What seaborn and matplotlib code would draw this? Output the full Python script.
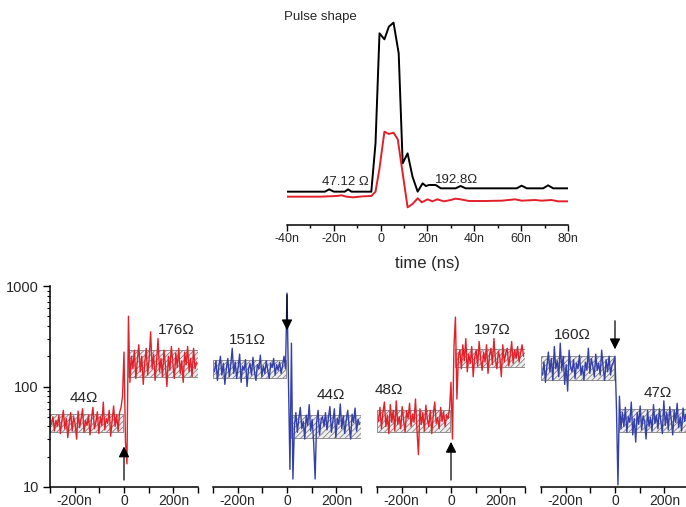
import numpy as np
import pandas as pd
import matplotlib
matplotlib.use('Agg')
import matplotlib.pyplot as plt
import seaborn as sns
from matplotlib.ticker import FixedLocator, FuncFormatter, NullFormatter, LogLocator

sns.set_theme(style='ticks')
plt.rcParams['font.family'] = ['Liberation Sans', 'DejaVu Sans']
plt.rcParams['hatch.linewidth'] = 0.6

# ---------------- Pulse shape (top inset) ----------------
pulse_t_black = [-40, -23.8, -22, -20, -15.3, -13.9, -12.5, -4, -2.2, -0.5, 1.6, 3.5, 5.5, 7.7,
                 9.4, 11.5, 13.6, 15.8, 17.9, 19.3, 20.7, 23.5, 25.7, 32, 34.1, 36.3, 58.1,
                 60.2, 62.4, 69.4, 71.5, 73.7, 80]
pulse_v_black = [5, 5, 6.4, 5, 5, 6.4, 5, 5, 34, 100, 96.4, 104, 106.4, 88,
                 22, 28, 14, 5, 10, 8.4, 9, 9, 7, 7, 8.4, 7, 7,
                 8.6, 7, 7, 8.8, 7, 7]
pulse_t_red = [-40, -25.9, -18.8, -16.7, -14.6, -11.8, -7.5, -4, -2.2, -0.5, 1.6, 3.5, 5.5, 7.3,
               9.4, 11.5, 13.6, 15.8, 17.6, 20, 22.1, 24.2, 27, 29.9, 32, 34.1, 37.7, 44.8,
               51.8, 57.4, 60.2, 65.9, 68.7, 72.9, 75.8, 80]
pulse_v_red = [2, 2, 2.4, 2.8, 2, 1.6, 2.2, 2.4, 5, 19, 41, 39.6, 40.4, 36.4,
               16, -4.4, -2.4, 1, -1.4, 0.4, -0.8, 0.4, -0.8, 0, 0.8, 0.4, -0.6, -0.6,
               -0.4, 0.4, -0.4, 0, -0.4, 0, -0.8, -0.8]
pulse_ticks = [-40, -20, 0, 20, 40, 60, 80]

# ---------------- Resistance switching traces (bottom) ----------------
trace_t = list(range(-294, 295, 6))

trace1 = [42, 50, 36, 46, 40, 52, 34, 45, 58, 38, 48, 31, 44, 55, 36, 50, 42, 30, 57, 39,
          48, 60, 35, 46, 41, 52, 33, 47, 62, 38, 44, 56, 34, 50, 41, 70, 37, 48, 43, 58,
          32, 46, 64, 40, 52, 36, 55, 62, 80,
          220, 28, 17, 500, 110, 200,
          150, 230, 120, 180, 260, 140, 200, 105, 170, 240, 130, 190, 350, 150, 210, 115,
          175, 300, 140, 190, 125, 230, 160, 100, 200, 145, 250, 170, 120, 215, 155, 240,
          135, 180, 110, 220, 165, 250, 140, 190, 125, 240, 150, 175]
trace2 = [140, 180, 115, 160, 200, 130, 170, 105, 150, 190, 125, 165, 240, 135, 175, 120,
          155, 210, 110, 160, 145, 185, 100, 150, 170, 130, 195, 140, 115, 165, 150, 205,
          125, 160, 135, 180, 145, 120, 170, 155, 190, 130, 165, 145, 175, 135, 160, 200, 150,
          850, 110, 15, 270, 12, 40,
          55, 35, 48, 62, 38, 45, 30, 52, 41, 66, 36, 47, 28, 12, 44, 58, 33, 46, 50, 40,
          55, 37, 49, 63, 35, 45, 60, 31, 48, 42, 67, 38, 51, 34, 46, 58, 40, 30, 53, 44,
          61, 36, 47, 42]
trace3 = [45, 62, 38, 55, 70, 40, 52, 34, 66, 44, 58, 36, 72, 42, 50, 38, 63, 46, 35, 57,
          48, 68, 40, 53, 44, 75, 37, 21, 60, 42, 55, 36, 65, 47, 40, 58, 34, 52, 70, 43,
          49, 38, 62, 45, 56, 40, 52, 48, 60,
          110, 30, 250, 490, 75, 200,
          230, 150, 260, 180, 300, 140, 210, 170, 250, 125, 195, 230, 160, 280, 190, 145,
          220, 175, 260, 135, 205, 240, 165, 300, 185, 150, 225, 195, 125, 260, 175, 215,
          240, 160, 200, 280, 170, 230, 190, 250, 175, 215, 260, 200]
trace4 = [130, 175, 110, 160, 220, 140, 190, 115, 250, 150, 180, 125, 270, 145, 200, 105,
          165, 90, 230, 155, 140, 185, 120, 170, 150, 205, 130, 160, 115, 175, 145, 240,
          135, 190, 160, 125, 210, 145, 170, 130, 230, 155, 115, 185, 140, 200, 130, 165, 175,
          200, 60, 10.5, 80, 38, 55,
          40, 62, 35, 50, 44, 70, 33, 48, 28, 55, 42, 64, 37, 51, 45, 30, 58, 40, 49, 36,
          66, 43, 52, 38, 60, 45, 34, 72, 41, 55, 37, 63, 47, 33, 58, 44, 68, 39, 50, 36,
          61, 45, 53, 42]

traces = [trace1, trace2, trace3, trace4]
trace_colors = ['#e3202a', '#3440a8', '#e3202a', '#3440a8']
# plateau bands (low, high) before and after the pulse
band_pre = [(35, 53), (122, 185), (35, 58), (116, 201)]
band_post = [(124, 231), (31, 52), (157, 236), (35, 60)]
label_pre = ['44Ω', '151Ω', '48Ω', '160Ω']
label_post = ['176Ω', '44Ω', '197Ω', '47Ω']
label_pre_pos = [(-162, 77), (-162, 290), (-252, 92), (-174, 325)]
label_post_pos = [(211, 363), (178, 82), (166, 363), (174, 86)]
arrow_from = [11.0, 870, 11.0, 480]
arrow_to = [27, 340, 30, 220]
bottom_ticks = [-200, 0, 200]
bottom_minor = [-300, -100, 100, 300]

W, H = 686, 507
fig = plt.figure(figsize=(W / 100, H / 100), dpi=100)

def nfmt(v, pos=None):
    v = int(round(v))
    return '0' if v == 0 else f'{v}n'

# ---- top ----
ax0 = fig.add_axes([287 / W, 1 - 225 / H, 281 / W, 215 / H])
sns.lineplot(x=pulse_t_black, y=pulse_v_black, ax=ax0, color='black', linewidth=1.4,
             estimator=None, sort=False, legend=False)
sns.lineplot(x=pulse_t_red, y=pulse_v_red, ax=ax0, color='#e3202a', linewidth=1.4,
             estimator=None, sort=False, legend=False)
ax0.set_xlim(-40, 80)
ax0.set_ylim(-15, 114)
sns.despine(ax=ax0, left=True, top=True, right=True)
ax0.set_yticks([])
ax0.set_ylabel('')
ax0.xaxis.set_major_locator(FixedLocator(pulse_ticks))
ax0.xaxis.set_minor_locator(FixedLocator([-30, -10, 10, 30, 50, 70]))
ax0.xaxis.set_major_formatter(FuncFormatter(nfmt))
ax0.tick_params(axis='x', which='major', length=4, width=1, labelsize=9, pad=2, color='black')
ax0.tick_params(axis='x', which='minor', length=2.5, width=1, color='black')
ax0.spines['bottom'].set_linewidth(1.1)
ax0.spines['bottom'].set_color('black')
ax0.set_xlabel('time (ns)', fontsize=12, labelpad=8)
ax0.text(-15.2, 11, '47.12 Ω', fontsize=9.5, ha='center', va='center')
ax0.text(32.6, 12, '192.8Ω', fontsize=9.5, ha='center', va='center')
ax0.text(-41.3, 109.8, 'Pulse shape', fontsize=9.5, ha='left', va='center', clip_on=False)

# ---- bottom ----
lefts = [50, 213, 377, 541]
for i in range(4):
    ax = fig.add_axes([lefts[i] / W, 1 - 487 / H, 148 / W, 201 / H])
    lo, hi = band_pre[i]
    ax.fill_between([-300, -4], lo, hi, facecolor='#eeeeee', edgecolor='#808080',
                    hatch='//////', linewidth=0.6, zorder=1)
    lo, hi = band_post[i]
    ax.fill_between([16, 300], lo, hi, facecolor='#eeeeee', edgecolor='#808080',
                    hatch='//////', linewidth=0.6, zorder=1)
    sns.lineplot(x=trace_t, y=traces[i], ax=ax, color=trace_colors[i], linewidth=1.0,
                 estimator=None, sort=False, legend=False, zorder=2)
    ax.set_yscale('log')
    ax.set_ylim(10, 1000)
    ax.set_xlim(-300, 300)
    ax.set_ylabel('')
    ax.xaxis.set_major_locator(FixedLocator(bottom_ticks))
    ax.xaxis.set_minor_locator(FixedLocator(bottom_minor))
    ax.xaxis.set_major_formatter(FuncFormatter(nfmt))
    ax.tick_params(axis='x', which='both', length=4, width=1, labelsize=10, pad=1, color='black')
    ax.spines['bottom'].set_color('black')
    ax.spines['bottom'].set_linewidth(1.1)
    if i == 0:
        sns.despine(ax=ax, top=True, right=True)
        ax.spines['left'].set_color('black')
        ax.spines['left'].set_linewidth(1.1)
        ax.yaxis.set_major_locator(FixedLocator([10, 100, 1000]))
        ax.yaxis.set_major_formatter(FuncFormatter(lambda v, p: f'{int(round(v))}'))
        ax.yaxis.set_minor_locator(LogLocator(base=10, subs=np.arange(2, 10)))
        ax.yaxis.set_minor_formatter(NullFormatter())
        ax.tick_params(axis='y', which='major', length=5, width=1, labelsize=10.5, pad=3, color='black')
        ax.tick_params(axis='y', which='minor', length=2.5, width=0.8, color='black')
    else:
        sns.despine(ax=ax, left=True, top=True, right=True)
        ax.tick_params(axis='y', which='both', left=False, labelleft=False)
    ax.text(*label_pre_pos[i], label_pre[i], fontsize=11, ha='center', va='center')
    ax.text(*label_post_pos[i], label_post[i], fontsize=11, ha='center', va='center')
    ax.annotate('', xy=(0, arrow_to[i]), xytext=(0, arrow_from[i]),
                arrowprops=dict(arrowstyle='-|>', color='black', lw=0.9, mutation_scale=16),
                zorder=5, annotation_clip=False)

fig.savefig('out.png', dpi=100)
